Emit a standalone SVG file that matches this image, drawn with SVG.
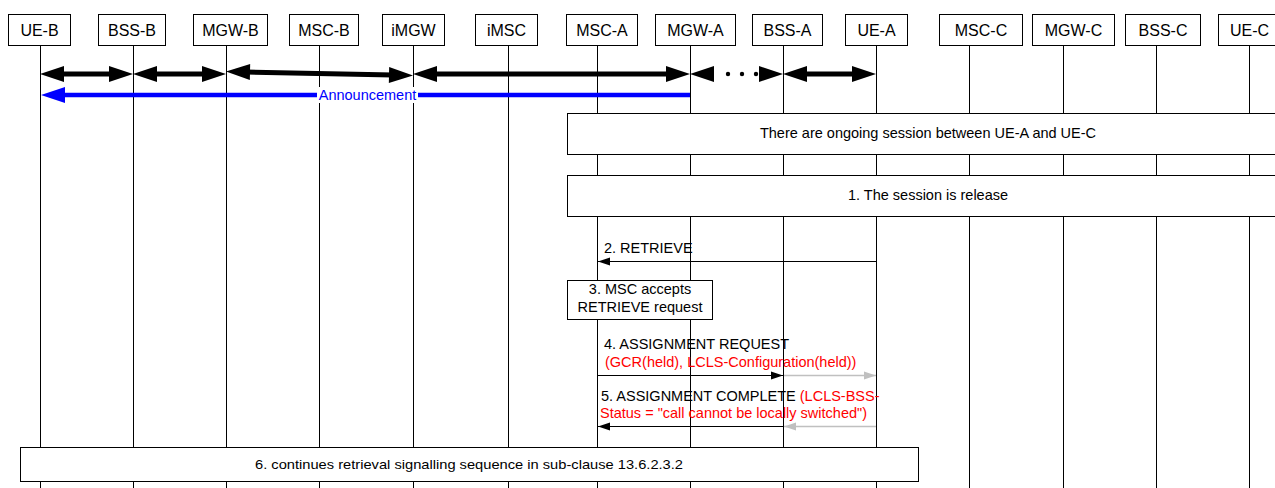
<svg xmlns="http://www.w3.org/2000/svg" width="1275" height="488" viewBox="0 0 1275 488">
<style>
text{font-family:"Liberation Sans",Arial,sans-serif;fill:#000}
.hdr{font-size:16px;text-anchor:middle}
.box{fill:#fff;stroke:#000;stroke-width:1}
.life{stroke:#000;stroke-width:1}
.msg{font-size:14.5px}
.red{fill:#f00}
.thick{stroke:#000;stroke-width:5;fill:none;marker-start:url(#hk);marker-end:url(#hk)}
.thin{stroke:#000;stroke-width:1;fill:none}
.gray{stroke:#c0c0c0;stroke-width:1.5;fill:none}
</style>
<defs>
<marker id="hk" markerUnits="userSpaceOnUse" markerWidth="24" markerHeight="16" refX="4" refY="8" orient="auto-start-reverse" overflow="visible"><path d="M0,0 L24,8 L0,16 z" fill="#000"/></marker>
<marker id="hb" markerUnits="userSpaceOnUse" markerWidth="24" markerHeight="16" refX="4" refY="8" orient="auto" overflow="visible"><path d="M0,0 L24,8 L0,16 z" fill="#00f"/></marker>
<marker id="ha" markerUnits="userSpaceOnUse" markerWidth="12" markerHeight="8" refX="12" refY="4" orient="auto" overflow="visible"><path d="M0,0 L12,4 L0,8 z" fill="#000"/></marker>
<marker id="hg" markerUnits="userSpaceOnUse" markerWidth="12" markerHeight="8" refX="12" refY="4" orient="auto" overflow="visible"><path d="M0,0 L12,4 L0,8 z" fill="#c0c0c0"/></marker>
</defs>
<rect width="1275" height="488" fill="#fff"/>

<g id="UE-B"><line class="life" x1="40.5" y1="45" x2="40.5" y2="488"/><rect class="box" x="8.5" y="14.5" width="62" height="31"/><text class="hdr" x="39.5" y="36">UE-B</text></g>
<g id="BSS-B"><line class="life" x1="133.5" y1="45" x2="133.5" y2="488"/><rect class="box" x="98.5" y="14.5" width="67" height="31"/><text class="hdr" x="132" y="36">BSS-B</text></g>
<g id="MGW-B"><line class="life" x1="226.5" y1="45" x2="226.5" y2="488"/><rect class="box" x="193.5" y="14.5" width="74" height="31"/><text class="hdr" x="230.5" y="36">MGW-B</text></g>
<g id="MSC-B"><line class="life" x1="319.5" y1="45" x2="319.5" y2="488"/><rect class="box" x="289.5" y="14.5" width="69" height="31"/><text class="hdr" x="324" y="36">MSC-B</text></g>
<g id="iMGW"><line class="life" x1="413.5" y1="45" x2="413.5" y2="488"/><rect class="box" x="382.5" y="14.5" width="62" height="31"/><text class="hdr" x="413.5" y="36">iMGW</text></g>
<g id="iMSC"><line class="life" x1="508.5" y1="45" x2="508.5" y2="488"/><rect class="box" x="475.5" y="14.5" width="62" height="31"/><text class="hdr" x="506.5" y="36">iMSC</text></g>
<g id="MSC-A"><line class="life" x1="597.5" y1="45" x2="597.5" y2="488"/><rect class="box" x="566.5" y="14.5" width="71" height="31"/><text class="hdr" x="602" y="36">MSC-A</text></g>
<g id="MGW-A"><line class="life" x1="690.5" y1="45" x2="690.5" y2="488"/><rect class="box" x="655.5" y="14.5" width="80" height="31"/><text class="hdr" x="695.5" y="36">MGW-A</text></g>
<g id="BSS-A"><line class="life" x1="783.5" y1="45" x2="783.5" y2="488"/><rect class="box" x="752.5" y="14.5" width="70" height="31"/><text class="hdr" x="787.5" y="36">BSS-A</text></g>
<g id="UE-A"><line class="life" x1="876.5" y1="45" x2="876.5" y2="488"/><rect class="box" x="845.5" y="14.5" width="62" height="31"/><text class="hdr" x="876.5" y="36">UE-A</text></g>
<g id="MSC-C"><line class="life" x1="969.5" y1="45" x2="969.5" y2="488"/><rect class="box" x="939.5" y="14.5" width="83" height="31"/><text class="hdr" x="981" y="36">MSC-C</text></g>
<g id="MGW-C"><line class="life" x1="1063.5" y1="45" x2="1063.5" y2="488"/><rect class="box" x="1032.5" y="14.5" width="82" height="31"/><text class="hdr" x="1073.5" y="36">MGW-C</text></g>
<g id="BSS-C"><line class="life" x1="1156.5" y1="45" x2="1156.5" y2="488"/><rect class="box" x="1125.5" y="14.5" width="75" height="31"/><text class="hdr" x="1163" y="36">BSS-C</text></g>
<g id="UE-C"><line class="life" x1="1249.5" y1="45" x2="1249.5" y2="488"/><rect class="box" x="1218.5" y="14.5" width="80" height="31"/><text class="hdr" x="1249.5" y="36">UE-C</text></g>

<g id="note-ongoing"><rect class="box" x="567.5" y="113.5" width="720" height="41"/><text class="msg" x="928" y="138" text-anchor="middle">There are ongoing session between UE-A and UE-C</text></g>
<g id="note-release"><rect class="box" x="567.5" y="175.5" width="720" height="41"/><text class="msg" x="928" y="200" text-anchor="middle">1. The session is release</text></g>
<g id="step3"><rect class="box" x="567.5" y="280.5" width="145" height="39"/><text class="msg" x="640" y="294" text-anchor="middle">3. MSC accepts</text><text class="msg" x="640" y="312" text-anchor="middle">RETRIEVE request</text></g>
<g id="step6"><rect class="box" x="20.5" y="447.5" width="898" height="34"/><text x="469" y="469" text-anchor="middle" font-size="13" textLength="428" lengthAdjust="spacingAndGlyphs">6. continues retrieval signalling sequence in sub-clause 13.6.2.3.2</text></g>

<g id="connectors">
<line class="thick" x1="60" y1="74" x2="113" y2="74"/>
<line class="thick" x1="153" y1="74" x2="206" y2="74"/>
<line class="thick" x1="246" y1="72" x2="393" y2="75"/>
<line class="thick" x1="433" y1="74" x2="670" y2="74"/>
<line class="thick" x1="803" y1="74" x2="856" y2="74"/>
<path d="M690,74 L714,66 L714,82 z" fill="#000"/>
<path d="M783,74 L759,66 L759,82 z" fill="#000"/>
<circle cx="728" cy="74" r="2.2" fill="#000"/>
<circle cx="742" cy="74" r="2.2" fill="#000"/>
<circle cx="756" cy="74" r="2.2" fill="#000"/>
<line x1="690" y1="95" x2="61" y2="95" stroke="#00f" stroke-width="4.5" marker-end="url(#hb)"/>
<rect x="317" y="87" width="101" height="16" fill="#fff"/>
<text x="367.5" y="100" text-anchor="middle" font-size="14.5" style="fill:#00f">Announcement</text>

<line class="thin" x1="877" y1="261.5" x2="598" y2="261.5" marker-end="url(#ha)"/>
<text class="msg" x="604" y="253">2. RETRIEVE</text>

<text class="msg" x="604" y="349">4. ASSIGNMENT REQUEST</text>
<text class="msg red" x="605" y="367">(GCR(held), LCLS-Configuration(held))</text>
<line class="thin" x1="598" y1="375.5" x2="783" y2="375.5" marker-end="url(#ha)"/>
<line class="gray" x1="784" y1="375.5" x2="876" y2="375.5" marker-end="url(#hg)"/>

<text class="msg" x="601" y="401">5. ASSIGNMENT COMPLETE <tspan class="red">(LCLS-BSS-</tspan></text>
<text class="msg red" x="600" y="418">Status = "call cannot be locally switched")</text>
<line class="gray" x1="876" y1="426.5" x2="784" y2="426.5" marker-end="url(#hg)"/>
<line class="thin" x1="783" y1="426.5" x2="598" y2="426.5" marker-end="url(#ha)"/>
</g>
</svg>
